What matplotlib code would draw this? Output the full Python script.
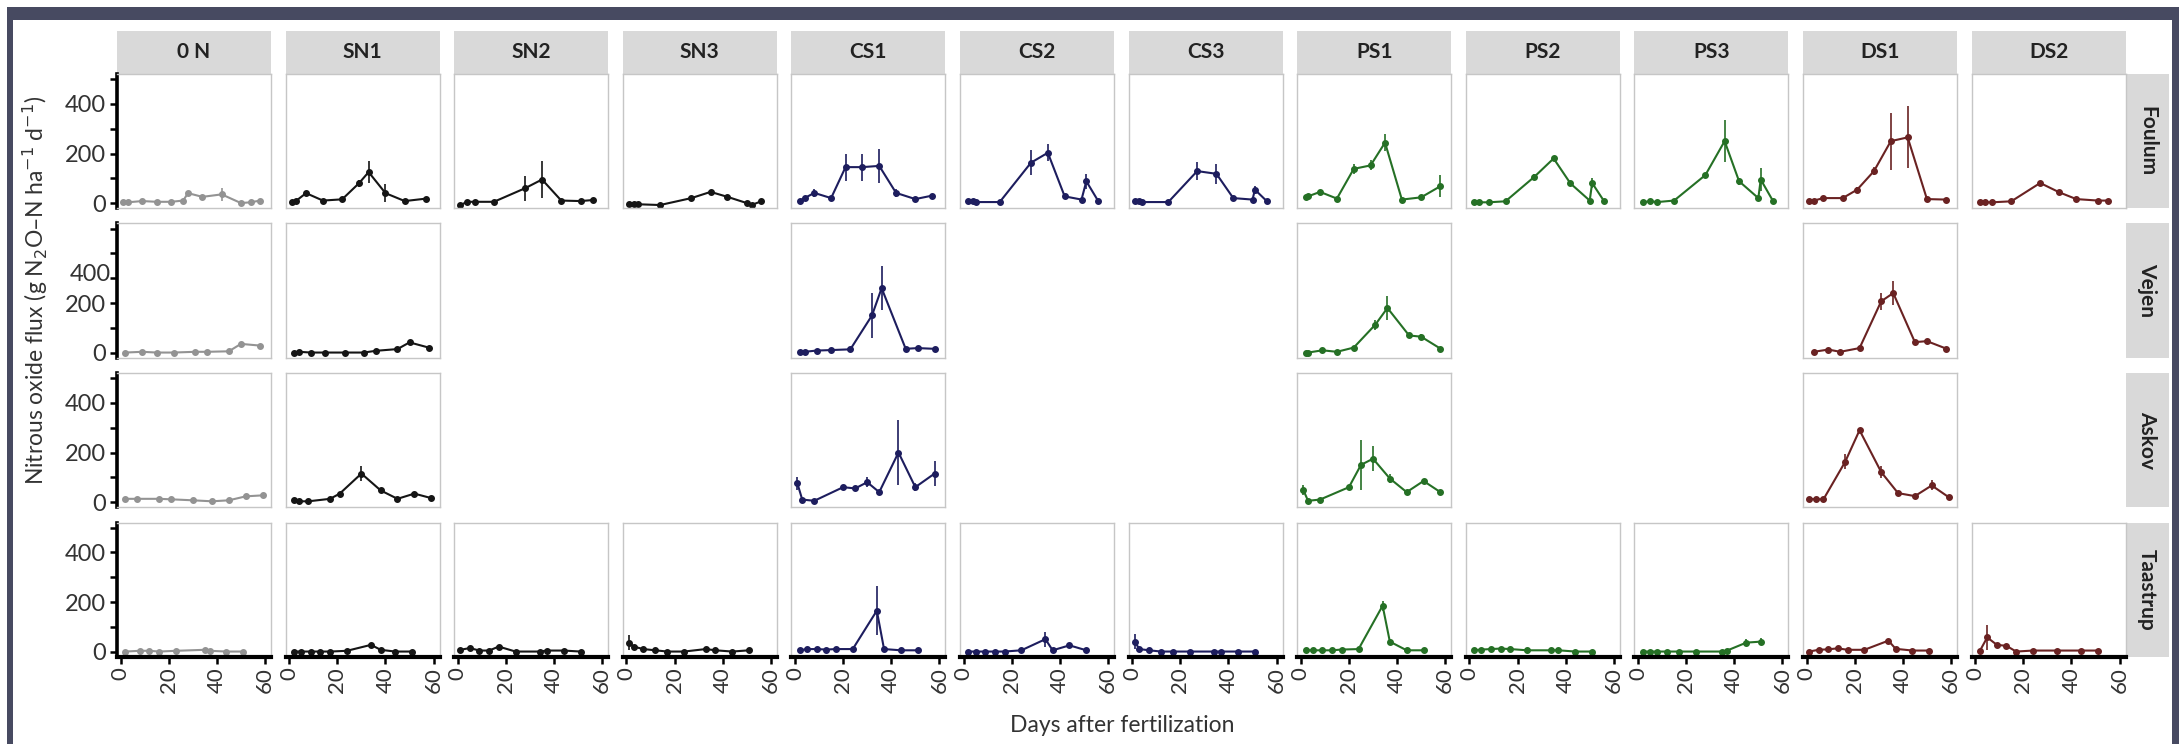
import matplotlib
matplotlib.use("Agg")
import matplotlib.pyplot as plt
from matplotlib.patches import Rectangle

plt.rcParams['font.family'] = ['Lato', 'DejaVu Sans']

treatments = ['0 N', 'SN1', 'SN2', 'SN3', 'CS1', 'CS2', 'CS3', 'PS1', 'PS2', 'PS3', 'DS1', 'DS2']
sites = ['Foulum', 'Vejen', 'Askov', 'Taastrup']
colors = {'0': '#939393', 'S': '#151515', 'C': '#1d1d5e', 'P': '#257025', 'D': '#6a2222'}

# days after fertilization / flux / standard error, per site and treatment
foulum_days = {
    '0 N': [1, 3, 9, 15, 21, 26, 28, 34, 42, 50, 54, 58],
    'SN1': [1, 3, 7, 14, 22, 29, 33, 40, 48, 57],
    'SN2': [1, 4, 7, 15, 28, 35, 43, 51, 56],
    'SN3': [1, 3, 5, 14, 27, 35, 42, 50, 52, 56],
    'CS1': [2, 4, 8, 15, 21, 28, 35, 42, 50, 57],
    'CS2': [2, 4, 5, 15, 28, 35, 42, 49, 51, 56],
    'CS3': [1, 3, 4, 15, 27, 35, 42, 50, 51, 56],
    'PS1': [2, 3, 8, 15, 22, 29, 35, 42, 50, 58],
    'PS2': [2, 4, 8, 15, 27, 35, 42, 50, 51, 56],
    'PS3': [2, 5, 8, 15, 28, 36, 42, 50, 51, 56],
    'DS1': [1, 3, 7, 15, 21, 28, 35, 42, 50, 58],
    'DS2': [2, 4, 7, 15, 27, 35, 42, 51, 55],
}
foulum_flux = {
    '0 N': [5, 3, 8, 5, 5, 10, 40, 25, 35, 0, 3, 10],
    'SN1': [5, 10, 40, 10, 15, 80, 125, 40, 8, 18],
    'SN2': [-8, 5, 5, 5, 60, 95, 10, 8, 12],
    'SN3': [-5, -5, -5, -8, 20, 45, 25, 0, -8, 7],
    'CS1': [9, 20, 41, 20, 145, 145, 150, 41, 16, 30],
    'CS2': [7, 7, 4, 4, 163, 203, 27, 14, 88, 7],
    'CS3': [7, 10, 4, 4, 129, 118, 20, 14, 54, 7],
    'PS1': [23, 27, 45, 18, 138, 152, 244, 14, 23, 68],
    'PS2': [3, 3, 3, 7, 106, 180, 79, 10, 81, 7],
    'PS3': [4, 7, 4, 10, 113, 250, 88, 20, 95, 10],
    'DS1': [10, 10, 20, 20, 54, 129, 250, 265, 16, 14],
    'DS2': [3, 3, 3, 7, 81, 43, 16, 10, 10],
}
foulum_se = {
    '0 N': [3, 3, 3, 3, 3, 5, 8, 8, 25, 5, 5, 8],
    'SN1': [5, 5, 10, 5, 5, 15, 45, 35, 5, 5],
    'SN2': [5, 3, 3, 3, 50, 75, 5, 5, 5],
    'SN3': [3, 3, 3, 3, 5, 5, 5, 3, 3, 3],
    'CS1': [3, 5, 15, 3, 55, 55, 70, 15, 3, 5],
    'CS2': [3, 3, 3, 3, 50, 35, 5, 5, 30, 5],
    'CS3': [3, 3, 3, 3, 35, 40, 5, 5, 15, 3],
    'PS1': [5, 5, 8, 5, 20, 20, 35, 5, 10, 45],
    'PS2': [3, 3, 3, 3, 10, 10, 10, 5, 20, 5],
    'PS3': [3, 3, 3, 3, 8, 85, 15, 5, 45, 5],
    'DS1': [3, 3, 5, 5, 10, 15, 115, 125, 5, 3],
    'DS2': [3, 3, 3, 3, 10, 10, 5, 5, 5],
}

vejen_days = {
    '0 N': [2, 9, 15, 22, 31, 36, 45, 50, 58],
    'SN1': [2, 4, 9, 15, 23, 31, 36, 45, 50, 58],
    'CS1': [2, 4, 9, 15, 23, 32, 36, 46, 51, 58],
    'PS1': [2, 3, 9, 15, 22, 31, 36, 45, 50, 58],
    'DS1': [3, 9, 14, 22, 31, 36, 45, 50, 58],
}
vejen_flux = {
    '0 N': [0, 3, 0, 0, 3, 3, 5, 35, 28],
    'SN1': [0, 3, 0, 0, 0, 0, 7, 14, 41, 20],
    'CS1': [3, 3, 8, 10, 13, 150, 260, 15, 18, 15],
    'PS1': [0, 0, 9, 3, 20, 113, 180, 69, 64, 16],
    'DS1': [3, 12, 3, 18, 207, 240, 42, 46, 16],
}
vejen_se = {
    '0 N': [2, 2, 2, 2, 2, 2, 2, 5, 3],
    'SN1': [3, 3, 3, 3, 3, 3, 3, 3, 5, 3],
    'CS1': [3, 3, 3, 3, 5, 90, 90, 5, 5, 5],
    'PS1': [3, 3, 3, 3, 5, 20, 50, 10, 10, 5],
    'DS1': [3, 5, 3, 5, 35, 50, 10, 10, 5],
}

askov_days = {
    '0 N': [2, 7, 16, 21, 30, 38, 45, 52, 59],
    'SN1': [2, 4, 8, 17, 21, 30, 38, 45, 52, 59],
    'CS1': [1, 3, 8, 20, 25, 30, 35, 43, 50, 58],
    'PS1': [1, 3, 8, 20, 25, 30, 37, 44, 51, 58],
    'DS1': [1, 4, 7, 16, 22, 31, 38, 45, 52, 59],
}
askov_flux = {
    '0 N': [13, 13, 13, 11, 7, 3, 7, 23, 27],
    'SN1': [7, 3, 3, 13, 34, 115, 47, 13, 34, 16],
    'CS1': [75, 10, 5, 60, 55, 80, 40, 200, 60, 115],
    'PS1': [50, 5, 10, 60, 150, 175, 95, 40, 85, 40],
    'DS1': [13, 11, 11, 162, 290, 121, 36, 24, 67, 20],
}
askov_se = {
    '0 N': [3, 3, 3, 3, 3, 3, 3, 3, 3],
    'SN1': [3, 3, 3, 3, 5, 30, 5, 3, 5, 3],
    'CS1': [25, 5, 3, 10, 10, 20, 10, 130, 15, 50],
    'PS1': [20, 3, 3, 10, 100, 50, 20, 10, 10, 5],
    'DS1': [3, 3, 3, 30, 10, 25, 5, 5, 20, 5],
}

taastrup_days = {
    '0 N': [2, 8, 12, 16, 23, 35, 37, 44, 51],
    'SN1': [2, 5, 9, 13, 17, 24, 34, 38, 44, 51],
    'SN2': [1, 5, 9, 13, 17, 24, 34, 37, 44, 51],
    'SN3': [1, 3, 7, 12, 17, 24, 33, 37, 44, 51],
    'CS1': [2, 5, 9, 13, 17, 24, 34, 37, 44, 51],
    'CS2': [2, 5, 9, 13, 17, 24, 34, 37, 44, 51],
    'CS3': [1, 3, 7, 12, 17, 24, 34, 37, 44, 51],
    'PS1': [2, 5, 9, 13, 17, 24, 34, 37, 44, 51],
    'PS2': [2, 5, 9, 13, 17, 24, 34, 37, 44, 51],
    'PS3': [2, 5, 8, 12, 17, 24, 35, 37, 45, 51],
    'DS1': [1, 5, 9, 13, 17, 24, 34, 37, 44, 51],
    'DS2': [2, 5, 9, 13, 17, 24, 34, 44, 51],
}
taastrup_flux = {
    '0 N': [0, 3, 3, 0, 3, 7, 3, 0, 0],
    'SN1': [0, 0, 0, 0, 0, 3, 27, 7, 0, 0],
    'SN2': [7, 14, 4, 4, 20, 0, 0, 4, 4, 0],
    'SN3': [35, 20, 10, 5, 0, 0, 10, 5, 0, 5],
    'CS1': [5, 10, 10, 8, 10, 10, 165, 10, 5, 5],
    'CS2': [0, 0, 0, 0, 0, 5, 50, 5, 25, 5],
    'CS3': [40, 10, 5, 0, 0, 0, 0, 0, 0, 0],
    'PS1': [5, 5, 5, 5, 8, 10, 185, 40, 5, 5],
    'PS2': [5, 8, 10, 12, 10, 5, 5, 5, 0, 0],
    'PS3': [0, 0, 0, 0, 0, 0, 0, 4, 36, 40],
    'DS1': [0, 7, 9, 13, 7, 7, 44, 11, 4, 4],
    'DS2': [4, 57, 27, 23, 0, 4, 4, 4, 4],
}
taastrup_se = {
    '0 N': [2, 2, 2, 2, 2, 5, 2, 2, 2],
    'SN1': [2, 2, 2, 2, 2, 2, 5, 3, 2, 2],
    'SN2': [3, 5, 3, 3, 8, 2, 2, 3, 3, 2],
    'SN3': [30, 8, 3, 3, 2, 2, 3, 2, 2, 2],
    'CS1': [3, 3, 3, 3, 3, 3, 100, 3, 3, 3],
    'CS2': [2, 2, 2, 2, 2, 3, 30, 3, 8, 3],
    'CS3': [30, 5, 3, 2, 2, 2, 2, 2, 2, 2],
    'PS1': [3, 3, 3, 3, 3, 3, 20, 5, 3, 3],
    'PS2': [3, 3, 3, 3, 3, 3, 3, 3, 2, 2],
    'PS3': [2, 2, 2, 2, 2, 2, 2, 3, 15, 15],
    'DS1': [2, 3, 3, 3, 3, 3, 8, 3, 2, 2],
    'DS2': [3, 50, 5, 5, 3, 3, 3, 3, 3],
}

site_data = {
    'Foulum': (foulum_days, foulum_flux, foulum_se),
    'Vejen': (vejen_days, vejen_flux, vejen_se),
    'Askov': (askov_days, askov_flux, askov_se),
    'Taastrup': (taastrup_days, taastrup_flux, taastrup_se),
}

W, H = 2179, 744
fig = plt.figure(figsize=(W / 100, H / 100), dpi=100)


def px_axes(x, y, w, h, **kw):
    return fig.add_axes([x / W, 1 - (y + h) / H, w / W, h / H], **kw)


# dark frame of the original image
frame = '#474a61'
fig.add_artist(Rectangle((7 / W, 1 - 20 / H), (W - 14) / W, 13 / H, transform=fig.transFigure, color=frame, lw=0))
fig.add_artist(Rectangle((7 / W, 0), 6 / W, 1 - 7 / H, transform=fig.transFigure, color=frame, lw=0))
fig.add_artist(Rectangle((2172 / W, 0), 7 / W, 1 - 7 / H, transform=fig.transFigure, color=frame, lw=0))

x0, pw, dx = 117, 154, 168.6
strip_top, strip_h = 31, 43
y0, ph, dy = 74, 134, 149.5

for c, t in enumerate(treatments):
    sax = px_axes(x0 + c * dx, strip_top, pw, strip_h)
    sax.set_facecolor('#d9d9d9')
    sax.set_xticks([]); sax.set_yticks([])
    for s in sax.spines.values():
        s.set_visible(False)
    sax.text(0.5, 0.5, t, ha='center', va='center', fontsize=15, fontweight='bold', color='#222222')

for r, site in enumerate(sites):
    rax = px_axes(x0 + 11 * dx + pw, y0 + r * dy, 43, ph)
    rax.set_facecolor('#d9d9d9')
    rax.set_xticks([]); rax.set_yticks([])
    for s in rax.spines.values():
        s.set_visible(False)
    rax.text(0.5, 0.5, site, ha='center', va='center', rotation=270, fontsize=15, fontweight='bold', color='#222222')

    days, flux, se = site_data[site]
    for c, t in enumerate(treatments):
        if t not in days:
            continue
        ax = px_axes(x0 + c * dx, y0 + r * dy, pw, ph)
        col = colors[t[0]]
        ax.errorbar(days[t], flux[t], yerr=se[t], color=col, marker='o', ms=4,
                    lw=1.5, elinewidth=1.2, capsize=0)
        ax.set_xlim(-1.5, 62.5)
        ax.set_ylim(-20, 521)
        for s in ax.spines.values():
            s.set_color('#c6c6c6')
            s.set_linewidth(1.0)
        ax.set_yticks([0, 100, 200, 300, 400, 500])
        ax.set_xticks([0, 20, 40, 60])
        if c == 0:
            ax.spines['left'].set_color('black')
            ax.spines['left'].set_linewidth(2.6)
            ax.set_yticklabels(['0', '', '200', '', '400', ''])
            ax.tick_params(axis='y', length=5, width=1.8, labelsize=17, colors='#333333', pad=3)
            ax.tick_params(axis='y', color='black')
            if site == 'Vejen':
                # the source image has the upper labels of this row squeezed together
                ax.yaxis.get_major_ticks()[4].label1.set_visible(False)
                ax.text(-0.04, 315, '400', transform=ax.get_yaxis_transform(), ha='right',
                        va='center', fontsize=17, color='#333333')
        else:
            ax.tick_params(axis='y', left=False, labelleft=False)
        if r == 3:
            ax.spines['bottom'].set_color('black')
            ax.spines['bottom'].set_linewidth(3)
            ax.set_xticklabels(['0', '20', '40', '60'], rotation=90)
            ax.tick_params(axis='x', length=5, width=1.8, labelsize=16, colors='#333333', pad=3)
            ax.tick_params(axis='x', color='black')
        else:
            ax.tick_params(axis='x', bottom=False, labelbottom=False)

fig.text(35 / W, 1 - 290 / H, 'Nitrous oxide flux (g N$_2$O\u2013N ha$^{-1}$ d$^{-1}$)',
         rotation=90, ha='center', va='center', fontsize=16.5, color='#333333')
fig.text(1122 / W, 1 - 725 / H, 'Days after fertilization', ha='center', va='center',
         fontsize=16.5, color='#333333')

fig.savefig('out.png', dpi=100, facecolor='white')
